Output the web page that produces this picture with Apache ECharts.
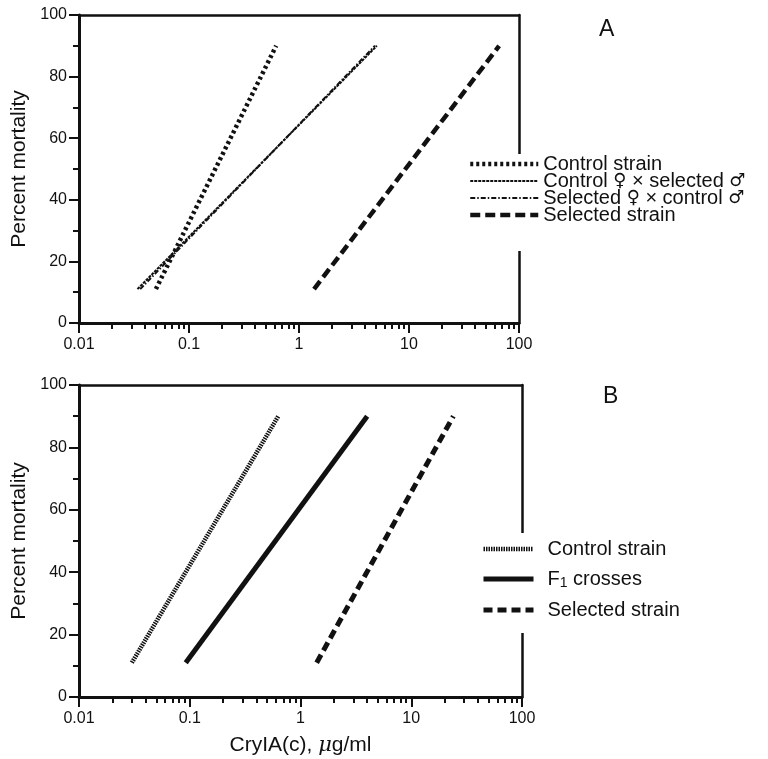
<!DOCTYPE html>
<html>
<head>
<meta charset="utf-8">
<title>Percent mortality vs CryIA(c)</title>
<script src="https://cdn.jsdelivr.net/npm/echarts@6/dist/echarts.min.js"></script>
<style>
  html, body { margin: 0; padding: 0; background: #fff; }
  #chart { width: 768px; height: 759px; }
</style>
</head>
<body>
<div id="chart"></div>
<script>
// panel A: [concentration, % mortality] end points of each fitted line
const controlA = [[0.05, 11], [0.62, 90]];
const ctrlFemaleSelMaleA = [[0.034, 11], [5.1, 90]];
const selFemaleCtrlMaleA = [[0.036, 11], [4.9, 90]];
const selectedA = [[1.37, 11], [66, 90]];

// panel B
const controlB = [[0.030, 11], [0.63, 90]];
const f1B = [[0.092, 11], [4.0, 90]];
const selectedB = [[1.4, 11], [24, 90]];

const namesA = ['Control strain', 'Control ♀ × selected ♂', 'Selected ♀ × control ♂', 'Selected strain'];
// trailing space keeps B's legend apart from A's series of the same name
const namesB = ['Control strain ', 'F1 crosses', 'Selected strain '];

const xMajor = [0.01, 0.1, 1, 10, 100];
const xMinor = [];
[0.01, 0.1, 1, 10].forEach(d => {
  [2, 3, 4, 5, 6, 7, 8, 9].forEach(m => xMinor.push(+(d * m).toPrecision(3)));
});

const ink = '#111';
const font = 'Liberation Sans, Arial, sans-serif';

// line looks, shared by series and their legend samples
const styleA = [
  { width: 4.5, type: [3, 3] },
  { width: 2, type: [3, 1] },
  { width: 2, type: [5, 2, 1.5, 2] },
  { width: 4.5, type: [10, 5] }
];
const styleB = [
  { width: 4.5, type: [1.5, 1] },
  { width: 5, type: 'solid' },
  { width: 5, type: [9, 5] }
];

function xAxes(grid, withName) {
  return [
    {
      type: 'log', gridIndex: grid, position: 'bottom', min: 0.01, max: 100,
      axisLine: { onZero: false, lineStyle: { color: ink, width: 3 } },
      axisTick: { customValues: xMajor, length: 10, lineStyle: { width: 2 } },
      axisLabel: { customValues: xMajor, color: ink, fontSize: 16, fontFamily: font, margin: 14,
        formatter: v => String(v) },
      splitLine: { show: false },
      name: withName ? 'CryIA(c), {mu|μ}g/ml' : '',
      nameLocation: 'middle', nameGap: 38,
      nameTextStyle: { color: ink, fontSize: 21, fontFamily: font,
        rich: { mu: { fontSize: 21, fontStyle: 'italic', fontFamily: 'DejaVu Serif, serif', color: ink } } }
    },
    {
      type: 'log', gridIndex: grid, position: 'bottom', min: 0.01, max: 100,
      axisLine: { show: false },
      axisTick: { customValues: xMinor, length: 6, lineStyle: { color: ink, width: 2 } },
      axisLabel: { show: false },
      splitLine: { show: false }
    },
    {
      type: 'value', gridIndex: grid, position: 'top',
      axisLine: { onZero: false, lineStyle: { color: ink, width: 2.5 } },
      axisTick: { show: false }, axisLabel: { show: false }, splitLine: { show: false }
    }
  ];
}

function yAxes(grid) {
  return [
    {
      type: 'value', gridIndex: grid, position: 'left', min: 0, max: 100, interval: 20,
      axisLine: { onZero: false, lineStyle: { color: ink, width: 3 } },
      axisTick: { length: 10, lineStyle: { width: 2 } },
      minorTick: { show: true, splitNumber: 2, length: 6, lineStyle: { color: ink, width: 2 } },
      axisLabel: { color: ink, fontSize: 16, fontFamily: font, margin: 12 },
      splitLine: { show: false },
      name: 'Percent mortality', nameLocation: 'middle', nameGap: 41,
      nameTextStyle: { color: ink, fontSize: 21, fontFamily: font }
    },
    {
      type: 'value', gridIndex: grid, position: 'right',
      axisLine: { show: true, onZero: false, lineStyle: { color: ink, width: 2.5 } },
      axisTick: { show: false }, axisLabel: { show: false }, splitLine: { show: false }
    }
  ];
}

function line(name, data, xi, yi, st) {
  return {
    name: name, type: 'line', xAxisIndex: xi, yAxisIndex: yi, data: data,
    symbol: 'none', silent: true,
    itemStyle: { color: ink },
    lineStyle: { color: ink, width: st.width, type: st.type, cap: 'butt' }
  };
}

function legendData(names, styles) {
  return names.map((n, i) => ({ name: n, lineStyle: { width: styles[i].width, type: styles[i].type, color: ink } }));
}

const legendText = {
  color: ink, fontSize: 20, lineHeight: 17, fontFamily: font,
  rich: {
    s: { fontSize: 18, fontFamily: 'DejaVu Sans, sans-serif', color: ink, lineHeight: 17 },
    sub: { fontSize: 14, fontFamily: font, color: ink, padding: [8, 0, 0, 0] }
  }
};

const chart = echarts.init(document.getElementById('chart'));
chart.setOption({
  animation: false,
  backgroundColor: '#fff',
  textStyle: { fontFamily: font },
  title: [
    { text: 'A', left: 594, top: 13, textStyle: { color: ink, fontSize: 23, fontWeight: 'normal', fontFamily: font } },
    { text: 'B', left: 598, top: 380, textStyle: { color: ink, fontSize: 23, fontWeight: 'normal', fontFamily: font } }
  ],
  grid: [
    { left: 79, top: 15, width: 440, height: 308 },
    { left: 79, top: 385, width: 443, height: 312 }
  ],
  xAxis: xAxes(0, false).concat(xAxes(1, true)),
  yAxis: yAxes(0).concat(yAxes(1)),
  legend: [
    {
      data: legendData(namesA, styleA), orient: 'vertical', left: 468, top: 154,
      itemWidth: 68, itemHeight: 14, itemGap: -3,
      padding: [0, 4, 26, 0], backgroundColor: '#fff',
      itemStyle: { opacity: 0 },
      formatter: n => n.replace(/♀/g, '{s|♀}').replace(/♂/g, '{s|♂}'),
      textStyle: legendText,
      selectedMode: false
    },
    {
      data: legendData(namesB, styleB), orient: 'vertical', left: 481, top: 533,
      itemWidth: 50, itemHeight: 14, itemGap: 10,
      padding: [6, 4, 13, 0], backgroundColor: '#fff',
      itemStyle: { opacity: 0 },
      formatter: n => n === 'F1 crosses' ? 'F{sub|1} crosses' : n,
      textStyle: Object.assign({}, legendText, { padding: [0, 0, 0, 9] }),
      selectedMode: false
    }
  ],
  series: [
    line(namesA[0], controlA, 0, 0, styleA[0]),
    line(namesA[1], ctrlFemaleSelMaleA, 0, 0, styleA[1]),
    line(namesA[2], selFemaleCtrlMaleA, 0, 0, styleA[2]),
    line(namesA[3], selectedA, 0, 0, styleA[3]),
    line(namesB[0], controlB, 3, 2, styleB[0]),
    line(namesB[1], f1B, 3, 2, styleB[1]),
    line(namesB[2], selectedB, 3, 2, styleB[2])
  ]
});
</script>
</body>
</html>
